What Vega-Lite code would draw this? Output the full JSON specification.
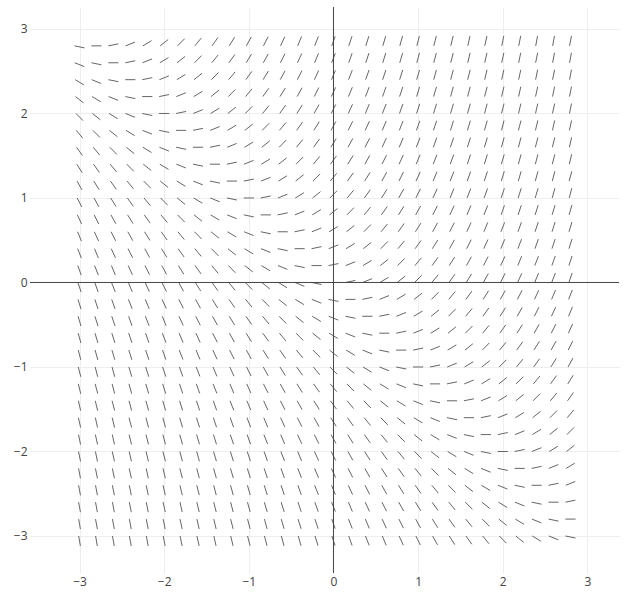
{
"$schema":"https://vega.github.io/schema/vega-lite/v6.json",
"width":589,"height":566,
"autosize":{"type":"none"},
"padding":{"left":30,"top":7,"right":7,"bottom":31},
"background":"white",
"config":{"view":{"stroke":null},"axis":{"domain":false,"ticks":false,"gridColor":"#eeeeee","gridWidth":1,"labelColor":"#444444","labelFont":"Open Sans","labelFontSize":12,"labelPadding":3,"title":null,"format":"d"}},
"data":{"values":[
{"a":-3.01,"b":-2.99,"y":-3,"c":-3.118},{"a":-2.81,"b":-2.79,"y":-3,"c":-3.118},{"a":-2.611,"b":-2.589,"y":-3,"c":-3.118},{"a":-2.411,"b":-2.389,"y":-3,"c":-3.118},{"a":-2.211,"b":-2.189,"y":-3,"c":-3.118},{"a":-2.012,"b":-1.988,"y":-3,"c":-3.118},{"a":-1.812,"b":-1.788,"y":-3,"c":-3.118},{"a":-1.613,"b":-1.587,"y":-3,"c":-3.117},{"a":-1.413,"b":-1.387,"y":-3,"c":-3.117},{"a":-1.214,"b":-1.186,"y":-3,"c":-3.117},{"a":-1.015,"b":-0.985,"y":-3,"c":-3.116},{"a":-0.815,"b":-0.785,"y":-3,"c":-3.116},{"a":-0.616,"b":-0.584,"y":-3,"c":-3.116},{"a":-0.417,"b":-0.383,"y":-3,"c":-3.115},{"a":-0.218,"b":-0.182,"y":-3,"c":-3.115},{"a":-0.019,"b":0.019,"y":-3,"c":-3.114},{"a":0.18,"b":0.22,"y":-3,"c":-3.113},{"a":0.378,"b":0.422,"y":-3,"c":-3.112},{"a":0.577,"b":0.623,"y":-3,"c":-3.111},{"a":0.775,"b":0.825,"y":-3,"c":-3.109},{"a":0.973,"b":1.027,"y":-3,"c":-3.107},{"a":1.171,"b":1.229,"y":-3,"c":-3.105},{"a":1.368,"b":1.432,"y":-3,"c":-3.102},{"a":1.565,"b":1.635,"y":-3,"c":-3.098},{"a":1.762,"b":1.838,"y":-3,"c":-3.092},{"a":1.958,"b":2.042,"y":-3,"c":-3.085},{"a":2.153,"b":2.247,"y":-3,"c":-3.075},{"a":2.349,"b":2.451,"y":-3,"c":-3.062},{"a":2.544,"b":2.656,"y":-3,"c":-3.045},{"a":2.741,"b":2.859,"y":-3,"c":-3.024},
{"a":-3.01,"b":-2.99,"y":-2.8,"c":-2.918},{"a":-2.811,"b":-2.789,"y":-2.8,"c":-2.918},{"a":-2.611,"b":-2.589,"y":-2.8,"c":-2.918},{"a":-2.411,"b":-2.389,"y":-2.8,"c":-2.918},{"a":-2.212,"b":-2.188,"y":-2.8,"c":-2.918},{"a":-2.012,"b":-1.988,"y":-2.8,"c":-2.918},{"a":-1.813,"b":-1.787,"y":-2.8,"c":-2.917},{"a":-1.613,"b":-1.587,"y":-2.8,"c":-2.917},{"a":-1.414,"b":-1.386,"y":-2.8,"c":-2.917},{"a":-1.215,"b":-1.185,"y":-2.8,"c":-2.916},{"a":-1.015,"b":-0.985,"y":-2.8,"c":-2.916},{"a":-0.816,"b":-0.784,"y":-2.8,"c":-2.916},{"a":-0.617,"b":-0.583,"y":-2.8,"c":-2.915},{"a":-0.418,"b":-0.382,"y":-2.8,"c":-2.915},{"a":-0.219,"b":-0.181,"y":-2.8,"c":-2.914},{"a":-0.02,"b":0.02,"y":-2.8,"c":-2.913},{"a":0.178,"b":0.222,"y":-2.8,"c":-2.912},{"a":0.377,"b":0.423,"y":-2.8,"c":-2.911},{"a":0.575,"b":0.625,"y":-2.8,"c":-2.909},{"a":0.773,"b":0.827,"y":-2.8,"c":-2.907},{"a":0.971,"b":1.029,"y":-2.8,"c":-2.905},{"a":1.168,"b":1.232,"y":-2.8,"c":-2.902},{"a":1.365,"b":1.435,"y":-2.8,"c":-2.898},{"a":1.562,"b":1.638,"y":-2.8,"c":-2.892},{"a":1.758,"b":1.842,"y":-2.8,"c":-2.885},{"a":1.953,"b":2.047,"y":-2.8,"c":-2.875},{"a":2.149,"b":2.251,"y":-2.8,"c":-2.862},{"a":2.344,"b":2.456,"y":-2.8,"c":-2.845},{"a":2.541,"b":2.659,"y":-2.8,"c":-2.824},{"a":2.74,"b":2.86,"y":-2.8,"c":-2.8},
{"a":-3.011,"b":-2.989,"y":-2.6,"c":-2.718},{"a":-2.811,"b":-2.789,"y":-2.6,"c":-2.718},{"a":-2.611,"b":-2.589,"y":-2.6,"c":-2.718},{"a":-2.412,"b":-2.388,"y":-2.6,"c":-2.718},{"a":-2.212,"b":-2.188,"y":-2.6,"c":-2.718},{"a":-2.013,"b":-1.987,"y":-2.6,"c":-2.717},{"a":-1.813,"b":-1.787,"y":-2.6,"c":-2.717},{"a":-1.614,"b":-1.586,"y":-2.6,"c":-2.717},{"a":-1.415,"b":-1.385,"y":-2.6,"c":-2.716},{"a":-1.215,"b":-1.185,"y":-2.6,"c":-2.716},{"a":-1.016,"b":-0.984,"y":-2.6,"c":-2.716},{"a":-0.817,"b":-0.783,"y":-2.6,"c":-2.715},{"a":-0.618,"b":-0.582,"y":-2.6,"c":-2.715},{"a":-0.419,"b":-0.381,"y":-2.6,"c":-2.714},{"a":-0.22,"b":-0.18,"y":-2.6,"c":-2.713},{"a":-0.022,"b":0.022,"y":-2.6,"c":-2.712},{"a":0.177,"b":0.223,"y":-2.6,"c":-2.711},{"a":0.375,"b":0.425,"y":-2.6,"c":-2.709},{"a":0.573,"b":0.627,"y":-2.6,"c":-2.707},{"a":0.771,"b":0.829,"y":-2.6,"c":-2.705},{"a":0.968,"b":1.032,"y":-2.6,"c":-2.702},{"a":1.165,"b":1.235,"y":-2.6,"c":-2.698},{"a":1.362,"b":1.438,"y":-2.6,"c":-2.692},{"a":1.558,"b":1.642,"y":-2.6,"c":-2.685},{"a":1.753,"b":1.847,"y":-2.6,"c":-2.675},{"a":1.949,"b":2.051,"y":-2.6,"c":-2.662},{"a":2.144,"b":2.256,"y":-2.6,"c":-2.645},{"a":2.341,"b":2.459,"y":-2.6,"c":-2.624},{"a":2.54,"b":2.66,"y":-2.6,"c":-2.6},{"a":2.741,"b":2.859,"y":-2.6,"c":-2.576},
{"a":-3.011,"b":-2.989,"y":-2.4,"c":-2.518},{"a":-2.811,"b":-2.789,"y":-2.4,"c":-2.518},{"a":-2.612,"b":-2.588,"y":-2.4,"c":-2.518},{"a":-2.412,"b":-2.388,"y":-2.4,"c":-2.518},{"a":-2.213,"b":-2.187,"y":-2.4,"c":-2.517},{"a":-2.013,"b":-1.987,"y":-2.4,"c":-2.517},{"a":-1.814,"b":-1.786,"y":-2.4,"c":-2.517},{"a":-1.615,"b":-1.585,"y":-2.4,"c":-2.516},{"a":-1.415,"b":-1.385,"y":-2.4,"c":-2.516},{"a":-1.216,"b":-1.184,"y":-2.4,"c":-2.516},{"a":-1.017,"b":-0.983,"y":-2.4,"c":-2.515},{"a":-0.818,"b":-0.782,"y":-2.4,"c":-2.515},{"a":-0.619,"b":-0.581,"y":-2.4,"c":-2.514},{"a":-0.42,"b":-0.38,"y":-2.4,"c":-2.513},{"a":-0.222,"b":-0.178,"y":-2.4,"c":-2.512},{"a":-0.023,"b":0.023,"y":-2.4,"c":-2.511},{"a":0.175,"b":0.225,"y":-2.4,"c":-2.509},{"a":0.373,"b":0.427,"y":-2.4,"c":-2.507},{"a":0.571,"b":0.629,"y":-2.4,"c":-2.505},{"a":0.768,"b":0.832,"y":-2.4,"c":-2.502},{"a":0.965,"b":1.035,"y":-2.4,"c":-2.498},{"a":1.162,"b":1.238,"y":-2.4,"c":-2.492},{"a":1.358,"b":1.442,"y":-2.4,"c":-2.485},{"a":1.553,"b":1.647,"y":-2.4,"c":-2.475},{"a":1.749,"b":1.851,"y":-2.4,"c":-2.462},{"a":1.944,"b":2.056,"y":-2.4,"c":-2.445},{"a":2.141,"b":2.259,"y":-2.4,"c":-2.424},{"a":2.34,"b":2.46,"y":-2.4,"c":-2.4},{"a":2.541,"b":2.659,"y":-2.4,"c":-2.376},{"a":2.744,"b":2.856,"y":-2.4,"c":-2.355},
{"a":-3.011,"b":-2.989,"y":-2.2,"c":-2.318},{"a":-2.812,"b":-2.788,"y":-2.2,"c":-2.318},{"a":-2.612,"b":-2.588,"y":-2.2,"c":-2.318},{"a":-2.413,"b":-2.387,"y":-2.2,"c":-2.317},{"a":-2.213,"b":-2.187,"y":-2.2,"c":-2.317},{"a":-2.014,"b":-1.986,"y":-2.2,"c":-2.317},{"a":-1.815,"b":-1.785,"y":-2.2,"c":-2.316},{"a":-1.615,"b":-1.585,"y":-2.2,"c":-2.316},{"a":-1.416,"b":-1.384,"y":-2.2,"c":-2.316},{"a":-1.217,"b":-1.183,"y":-2.2,"c":-2.315},{"a":-1.018,"b":-0.982,"y":-2.2,"c":-2.315},{"a":-0.819,"b":-0.781,"y":-2.2,"c":-2.314},{"a":-0.62,"b":-0.58,"y":-2.2,"c":-2.313},{"a":-0.422,"b":-0.378,"y":-2.2,"c":-2.312},{"a":-0.223,"b":-0.177,"y":-2.2,"c":-2.311},{"a":-0.025,"b":0.025,"y":-2.2,"c":-2.309},{"a":0.173,"b":0.227,"y":-2.2,"c":-2.307},{"a":0.371,"b":0.429,"y":-2.2,"c":-2.305},{"a":0.568,"b":0.632,"y":-2.2,"c":-2.302},{"a":0.765,"b":0.835,"y":-2.2,"c":-2.298},{"a":0.962,"b":1.038,"y":-2.2,"c":-2.292},{"a":1.158,"b":1.242,"y":-2.2,"c":-2.285},{"a":1.353,"b":1.447,"y":-2.2,"c":-2.275},{"a":1.549,"b":1.651,"y":-2.2,"c":-2.262},{"a":1.744,"b":1.856,"y":-2.2,"c":-2.245},{"a":1.941,"b":2.059,"y":-2.2,"c":-2.224},{"a":2.14,"b":2.26,"y":-2.2,"c":-2.2},{"a":2.341,"b":2.459,"y":-2.2,"c":-2.176},{"a":2.544,"b":2.656,"y":-2.2,"c":-2.155},{"a":2.749,"b":2.851,"y":-2.2,"c":-2.138},
{"a":-3.012,"b":-2.988,"y":-2,"c":-2.118},{"a":-2.812,"b":-2.788,"y":-2,"c":-2.118},{"a":-2.613,"b":-2.587,"y":-2,"c":-2.117},{"a":-2.413,"b":-2.387,"y":-2,"c":-2.117},{"a":-2.214,"b":-2.186,"y":-2,"c":-2.117},{"a":-2.015,"b":-1.985,"y":-2,"c":-2.116},{"a":-1.815,"b":-1.785,"y":-2,"c":-2.116},{"a":-1.616,"b":-1.584,"y":-2,"c":-2.116},{"a":-1.417,"b":-1.383,"y":-2,"c":-2.115},{"a":-1.218,"b":-1.182,"y":-2,"c":-2.115},{"a":-1.019,"b":-0.981,"y":-2,"c":-2.114},{"a":-0.82,"b":-0.78,"y":-2,"c":-2.113},{"a":-0.622,"b":-0.578,"y":-2,"c":-2.112},{"a":-0.423,"b":-0.377,"y":-2,"c":-2.111},{"a":-0.225,"b":-0.175,"y":-2,"c":-2.109},{"a":-0.027,"b":0.027,"y":-2,"c":-2.107},{"a":0.171,"b":0.229,"y":-2,"c":-2.105},{"a":0.368,"b":0.432,"y":-2,"c":-2.102},{"a":0.565,"b":0.635,"y":-2,"c":-2.098},{"a":0.762,"b":0.838,"y":-2,"c":-2.092},{"a":0.958,"b":1.042,"y":-2,"c":-2.085},{"a":1.153,"b":1.247,"y":-2,"c":-2.075},{"a":1.349,"b":1.451,"y":-2,"c":-2.062},{"a":1.544,"b":1.656,"y":-2,"c":-2.045},{"a":1.741,"b":1.859,"y":-2,"c":-2.024},{"a":1.94,"b":2.06,"y":-2,"c":-2},{"a":2.141,"b":2.259,"y":-2,"c":-1.976},{"a":2.344,"b":2.456,"y":-2,"c":-1.955},{"a":2.549,"b":2.651,"y":-2,"c":-1.938},{"a":2.753,"b":2.847,"y":-2,"c":-1.925},
{"a":-3.012,"b":-2.988,"y":-1.8,"c":-1.918},{"a":-2.813,"b":-2.787,"y":-1.8,"c":-1.917},{"a":-2.613,"b":-2.587,"y":-1.8,"c":-1.917},{"a":-2.414,"b":-2.386,"y":-1.8,"c":-1.917},{"a":-2.215,"b":-2.185,"y":-1.8,"c":-1.916},{"a":-2.015,"b":-1.985,"y":-1.8,"c":-1.916},{"a":-1.816,"b":-1.784,"y":-1.8,"c":-1.916},{"a":-1.617,"b":-1.583,"y":-1.8,"c":-1.915},{"a":-1.418,"b":-1.382,"y":-1.8,"c":-1.915},{"a":-1.219,"b":-1.181,"y":-1.8,"c":-1.914},{"a":-1.02,"b":-0.98,"y":-1.8,"c":-1.913},{"a":-0.822,"b":-0.778,"y":-1.8,"c":-1.912},{"a":-0.623,"b":-0.577,"y":-1.8,"c":-1.911},{"a":-0.425,"b":-0.375,"y":-1.8,"c":-1.909},{"a":-0.227,"b":-0.173,"y":-1.8,"c":-1.907},{"a":-0.029,"b":0.029,"y":-1.8,"c":-1.905},{"a":0.168,"b":0.232,"y":-1.8,"c":-1.902},{"a":0.365,"b":0.435,"y":-1.8,"c":-1.898},{"a":0.562,"b":0.638,"y":-1.8,"c":-1.892},{"a":0.758,"b":0.842,"y":-1.8,"c":-1.885},{"a":0.953,"b":1.047,"y":-1.8,"c":-1.875},{"a":1.149,"b":1.251,"y":-1.8,"c":-1.862},{"a":1.344,"b":1.456,"y":-1.8,"c":-1.845},{"a":1.541,"b":1.659,"y":-1.8,"c":-1.824},{"a":1.74,"b":1.86,"y":-1.8,"c":-1.8},{"a":1.941,"b":2.059,"y":-1.8,"c":-1.776},{"a":2.144,"b":2.256,"y":-1.8,"c":-1.755},{"a":2.349,"b":2.451,"y":-1.8,"c":-1.738},{"a":2.553,"b":2.647,"y":-1.8,"c":-1.725},{"a":2.758,"b":2.842,"y":-1.8,"c":-1.715},
{"a":-3.013,"b":-2.987,"y":-1.6,"c":-1.717},{"a":-2.813,"b":-2.787,"y":-1.6,"c":-1.717},{"a":-2.614,"b":-2.586,"y":-1.6,"c":-1.717},{"a":-2.415,"b":-2.385,"y":-1.6,"c":-1.716},{"a":-2.215,"b":-2.185,"y":-1.6,"c":-1.716},{"a":-2.016,"b":-1.984,"y":-1.6,"c":-1.716},{"a":-1.817,"b":-1.783,"y":-1.6,"c":-1.715},{"a":-1.618,"b":-1.582,"y":-1.6,"c":-1.715},{"a":-1.419,"b":-1.381,"y":-1.6,"c":-1.714},{"a":-1.22,"b":-1.18,"y":-1.6,"c":-1.713},{"a":-1.022,"b":-0.978,"y":-1.6,"c":-1.712},{"a":-0.823,"b":-0.777,"y":-1.6,"c":-1.711},{"a":-0.625,"b":-0.575,"y":-1.6,"c":-1.709},{"a":-0.427,"b":-0.373,"y":-1.6,"c":-1.707},{"a":-0.229,"b":-0.171,"y":-1.6,"c":-1.705},{"a":-0.032,"b":0.032,"y":-1.6,"c":-1.702},{"a":0.165,"b":0.235,"y":-1.6,"c":-1.698},{"a":0.362,"b":0.438,"y":-1.6,"c":-1.692},{"a":0.558,"b":0.642,"y":-1.6,"c":-1.685},{"a":0.753,"b":0.847,"y":-1.6,"c":-1.675},{"a":0.949,"b":1.051,"y":-1.6,"c":-1.662},{"a":1.144,"b":1.256,"y":-1.6,"c":-1.645},{"a":1.341,"b":1.459,"y":-1.6,"c":-1.624},{"a":1.54,"b":1.66,"y":-1.6,"c":-1.6},{"a":1.741,"b":1.859,"y":-1.6,"c":-1.576},{"a":1.944,"b":2.056,"y":-1.6,"c":-1.555},{"a":2.149,"b":2.251,"y":-1.6,"c":-1.538},{"a":2.353,"b":2.447,"y":-1.6,"c":-1.525},{"a":2.558,"b":2.642,"y":-1.6,"c":-1.515},{"a":2.762,"b":2.838,"y":-1.6,"c":-1.508},
{"a":-3.013,"b":-2.987,"y":-1.4,"c":-1.517},{"a":-2.814,"b":-2.786,"y":-1.4,"c":-1.517},{"a":-2.615,"b":-2.585,"y":-1.4,"c":-1.516},{"a":-2.415,"b":-2.385,"y":-1.4,"c":-1.516},{"a":-2.216,"b":-2.184,"y":-1.4,"c":-1.516},{"a":-2.017,"b":-1.983,"y":-1.4,"c":-1.515},{"a":-1.818,"b":-1.782,"y":-1.4,"c":-1.515},{"a":-1.619,"b":-1.581,"y":-1.4,"c":-1.514},{"a":-1.42,"b":-1.38,"y":-1.4,"c":-1.513},{"a":-1.222,"b":-1.178,"y":-1.4,"c":-1.512},{"a":-1.023,"b":-0.977,"y":-1.4,"c":-1.511},{"a":-0.825,"b":-0.775,"y":-1.4,"c":-1.509},{"a":-0.627,"b":-0.573,"y":-1.4,"c":-1.507},{"a":-0.429,"b":-0.371,"y":-1.4,"c":-1.505},{"a":-0.232,"b":-0.168,"y":-1.4,"c":-1.502},{"a":-0.035,"b":0.035,"y":-1.4,"c":-1.498},{"a":0.162,"b":0.238,"y":-1.4,"c":-1.492},{"a":0.358,"b":0.442,"y":-1.4,"c":-1.485},{"a":0.553,"b":0.647,"y":-1.4,"c":-1.475},{"a":0.749,"b":0.851,"y":-1.4,"c":-1.462},{"a":0.944,"b":1.056,"y":-1.4,"c":-1.445},{"a":1.141,"b":1.259,"y":-1.4,"c":-1.424},{"a":1.34,"b":1.46,"y":-1.4,"c":-1.4},{"a":1.541,"b":1.659,"y":-1.4,"c":-1.376},{"a":1.744,"b":1.856,"y":-1.4,"c":-1.355},{"a":1.949,"b":2.051,"y":-1.4,"c":-1.338},{"a":2.153,"b":2.247,"y":-1.4,"c":-1.325},{"a":2.358,"b":2.442,"y":-1.4,"c":-1.315},{"a":2.562,"b":2.638,"y":-1.4,"c":-1.308},{"a":2.765,"b":2.835,"y":-1.4,"c":-1.302},
{"a":-3.014,"b":-2.986,"y":-1.2,"c":-1.317},{"a":-2.815,"b":-2.785,"y":-1.2,"c":-1.316},{"a":-2.615,"b":-2.585,"y":-1.2,"c":-1.316},{"a":-2.416,"b":-2.384,"y":-1.2,"c":-1.316},{"a":-2.217,"b":-2.183,"y":-1.2,"c":-1.315},{"a":-2.018,"b":-1.982,"y":-1.2,"c":-1.315},{"a":-1.819,"b":-1.781,"y":-1.2,"c":-1.314},{"a":-1.62,"b":-1.58,"y":-1.2,"c":-1.313},{"a":-1.422,"b":-1.378,"y":-1.2,"c":-1.312},{"a":-1.223,"b":-1.177,"y":-1.2,"c":-1.311},{"a":-1.025,"b":-0.975,"y":-1.2,"c":-1.309},{"a":-0.827,"b":-0.773,"y":-1.2,"c":-1.307},{"a":-0.629,"b":-0.571,"y":-1.2,"c":-1.305},{"a":-0.432,"b":-0.368,"y":-1.2,"c":-1.302},{"a":-0.235,"b":-0.165,"y":-1.2,"c":-1.298},{"a":-0.038,"b":0.038,"y":-1.2,"c":-1.292},{"a":0.158,"b":0.242,"y":-1.2,"c":-1.285},{"a":0.353,"b":0.447,"y":-1.2,"c":-1.275},{"a":0.549,"b":0.651,"y":-1.2,"c":-1.262},{"a":0.744,"b":0.856,"y":-1.2,"c":-1.245},{"a":0.941,"b":1.059,"y":-1.2,"c":-1.224},{"a":1.14,"b":1.26,"y":-1.2,"c":-1.2},{"a":1.341,"b":1.459,"y":-1.2,"c":-1.176},{"a":1.544,"b":1.656,"y":-1.2,"c":-1.155},{"a":1.749,"b":1.851,"y":-1.2,"c":-1.138},{"a":1.953,"b":2.047,"y":-1.2,"c":-1.125},{"a":2.158,"b":2.242,"y":-1.2,"c":-1.115},{"a":2.362,"b":2.438,"y":-1.2,"c":-1.108},{"a":2.565,"b":2.635,"y":-1.2,"c":-1.102},{"a":2.768,"b":2.832,"y":-1.2,"c":-1.098},
{"a":-3.015,"b":-2.985,"y":-1,"c":-1.116},{"a":-2.815,"b":-2.785,"y":-1,"c":-1.116},{"a":-2.616,"b":-2.584,"y":-1,"c":-1.116},{"a":-2.417,"b":-2.383,"y":-1,"c":-1.115},{"a":-2.218,"b":-2.182,"y":-1,"c":-1.115},{"a":-2.019,"b":-1.981,"y":-1,"c":-1.114},{"a":-1.82,"b":-1.78,"y":-1,"c":-1.113},{"a":-1.622,"b":-1.578,"y":-1,"c":-1.112},{"a":-1.423,"b":-1.377,"y":-1,"c":-1.111},{"a":-1.225,"b":-1.175,"y":-1,"c":-1.109},{"a":-1.027,"b":-0.973,"y":-1,"c":-1.107},{"a":-0.829,"b":-0.771,"y":-1,"c":-1.105},{"a":-0.632,"b":-0.568,"y":-1,"c":-1.102},{"a":-0.435,"b":-0.365,"y":-1,"c":-1.098},{"a":-0.238,"b":-0.162,"y":-1,"c":-1.092},{"a":-0.042,"b":0.042,"y":-1,"c":-1.085},{"a":0.153,"b":0.247,"y":-1,"c":-1.075},{"a":0.349,"b":0.451,"y":-1,"c":-1.062},{"a":0.544,"b":0.656,"y":-1,"c":-1.045},{"a":0.741,"b":0.859,"y":-1,"c":-1.024},{"a":0.94,"b":1.06,"y":-1,"c":-1},{"a":1.141,"b":1.259,"y":-1,"c":-0.976},{"a":1.344,"b":1.456,"y":-1,"c":-0.955},{"a":1.549,"b":1.651,"y":-1,"c":-0.938},{"a":1.753,"b":1.847,"y":-1,"c":-0.925},{"a":1.958,"b":2.042,"y":-1,"c":-0.915},{"a":2.162,"b":2.238,"y":-1,"c":-0.908},{"a":2.365,"b":2.435,"y":-1,"c":-0.902},{"a":2.568,"b":2.632,"y":-1,"c":-0.898},{"a":2.771,"b":2.829,"y":-1,"c":-0.895},
{"a":-3.015,"b":-2.985,"y":-0.8,"c":-0.916},{"a":-2.816,"b":-2.784,"y":-0.8,"c":-0.916},{"a":-2.617,"b":-2.583,"y":-0.8,"c":-0.915},{"a":-2.418,"b":-2.382,"y":-0.8,"c":-0.915},{"a":-2.219,"b":-2.181,"y":-0.8,"c":-0.914},{"a":-2.02,"b":-1.98,"y":-0.8,"c":-0.913},{"a":-1.822,"b":-1.778,"y":-0.8,"c":-0.912},{"a":-1.623,"b":-1.577,"y":-0.8,"c":-0.911},{"a":-1.425,"b":-1.375,"y":-0.8,"c":-0.909},{"a":-1.227,"b":-1.173,"y":-0.8,"c":-0.907},{"a":-1.029,"b":-0.971,"y":-0.8,"c":-0.905},{"a":-0.832,"b":-0.768,"y":-0.8,"c":-0.902},{"a":-0.635,"b":-0.565,"y":-0.8,"c":-0.898},{"a":-0.438,"b":-0.362,"y":-0.8,"c":-0.892},{"a":-0.242,"b":-0.158,"y":-0.8,"c":-0.885},{"a":-0.047,"b":0.047,"y":-0.8,"c":-0.875},{"a":0.149,"b":0.251,"y":-0.8,"c":-0.862},{"a":0.344,"b":0.456,"y":-0.8,"c":-0.845},{"a":0.541,"b":0.659,"y":-0.8,"c":-0.824},{"a":0.74,"b":0.86,"y":-0.8,"c":-0.8},{"a":0.941,"b":1.059,"y":-0.8,"c":-0.776},{"a":1.144,"b":1.256,"y":-0.8,"c":-0.755},{"a":1.349,"b":1.451,"y":-0.8,"c":-0.738},{"a":1.553,"b":1.647,"y":-0.8,"c":-0.725},{"a":1.758,"b":1.842,"y":-0.8,"c":-0.715},{"a":1.962,"b":2.038,"y":-0.8,"c":-0.708},{"a":2.165,"b":2.235,"y":-0.8,"c":-0.702},{"a":2.368,"b":2.432,"y":-0.8,"c":-0.698},{"a":2.571,"b":2.629,"y":-0.8,"c":-0.695},{"a":2.773,"b":2.827,"y":-0.8,"c":-0.693},
{"a":-3.016,"b":-2.984,"y":-0.6,"c":-0.716},{"a":-2.817,"b":-2.783,"y":-0.6,"c":-0.715},{"a":-2.618,"b":-2.582,"y":-0.6,"c":-0.715},{"a":-2.419,"b":-2.381,"y":-0.6,"c":-0.714},{"a":-2.22,"b":-2.18,"y":-0.6,"c":-0.713},{"a":-2.022,"b":-1.978,"y":-0.6,"c":-0.712},{"a":-1.823,"b":-1.777,"y":-0.6,"c":-0.711},{"a":-1.625,"b":-1.575,"y":-0.6,"c":-0.709},{"a":-1.427,"b":-1.373,"y":-0.6,"c":-0.707},{"a":-1.229,"b":-1.171,"y":-0.6,"c":-0.705},{"a":-1.032,"b":-0.968,"y":-0.6,"c":-0.702},{"a":-0.835,"b":-0.765,"y":-0.6,"c":-0.698},{"a":-0.638,"b":-0.562,"y":-0.6,"c":-0.692},{"a":-0.442,"b":-0.358,"y":-0.6,"c":-0.685},{"a":-0.247,"b":-0.153,"y":-0.6,"c":-0.675},{"a":-0.051,"b":0.051,"y":-0.6,"c":-0.662},{"a":0.144,"b":0.256,"y":-0.6,"c":-0.645},{"a":0.341,"b":0.459,"y":-0.6,"c":-0.624},{"a":0.54,"b":0.66,"y":-0.6,"c":-0.6},{"a":0.741,"b":0.859,"y":-0.6,"c":-0.576},{"a":0.944,"b":1.056,"y":-0.6,"c":-0.555},{"a":1.149,"b":1.251,"y":-0.6,"c":-0.538},{"a":1.353,"b":1.447,"y":-0.6,"c":-0.525},{"a":1.558,"b":1.642,"y":-0.6,"c":-0.515},{"a":1.762,"b":1.838,"y":-0.6,"c":-0.508},{"a":1.965,"b":2.035,"y":-0.6,"c":-0.502},{"a":2.168,"b":2.232,"y":-0.6,"c":-0.498},{"a":2.371,"b":2.429,"y":-0.6,"c":-0.495},{"a":2.573,"b":2.627,"y":-0.6,"c":-0.493},{"a":2.775,"b":2.825,"y":-0.6,"c":-0.491},
{"a":-3.017,"b":-2.983,"y":-0.4,"c":-0.515},{"a":-2.818,"b":-2.782,"y":-0.4,"c":-0.515},{"a":-2.619,"b":-2.581,"y":-0.4,"c":-0.514},{"a":-2.42,"b":-2.38,"y":-0.4,"c":-0.513},{"a":-2.222,"b":-2.178,"y":-0.4,"c":-0.512},{"a":-2.023,"b":-1.977,"y":-0.4,"c":-0.511},{"a":-1.825,"b":-1.775,"y":-0.4,"c":-0.509},{"a":-1.627,"b":-1.573,"y":-0.4,"c":-0.507},{"a":-1.429,"b":-1.371,"y":-0.4,"c":-0.505},{"a":-1.232,"b":-1.168,"y":-0.4,"c":-0.502},{"a":-1.035,"b":-0.965,"y":-0.4,"c":-0.498},{"a":-0.838,"b":-0.762,"y":-0.4,"c":-0.492},{"a":-0.642,"b":-0.558,"y":-0.4,"c":-0.485},{"a":-0.447,"b":-0.353,"y":-0.4,"c":-0.475},{"a":-0.251,"b":-0.149,"y":-0.4,"c":-0.462},{"a":-0.056,"b":0.056,"y":-0.4,"c":-0.445},{"a":0.141,"b":0.259,"y":-0.4,"c":-0.424},{"a":0.34,"b":0.46,"y":-0.4,"c":-0.4},{"a":0.541,"b":0.659,"y":-0.4,"c":-0.376},{"a":0.744,"b":0.856,"y":-0.4,"c":-0.355},{"a":0.949,"b":1.051,"y":-0.4,"c":-0.338},{"a":1.153,"b":1.247,"y":-0.4,"c":-0.325},{"a":1.358,"b":1.442,"y":-0.4,"c":-0.315},{"a":1.562,"b":1.638,"y":-0.4,"c":-0.308},{"a":1.765,"b":1.835,"y":-0.4,"c":-0.302},{"a":1.968,"b":2.032,"y":-0.4,"c":-0.298},{"a":2.171,"b":2.229,"y":-0.4,"c":-0.295},{"a":2.373,"b":2.427,"y":-0.4,"c":-0.293},{"a":2.575,"b":2.625,"y":-0.4,"c":-0.291},{"a":2.777,"b":2.823,"y":-0.4,"c":-0.289},
{"a":-3.018,"b":-2.982,"y":-0.2,"c":-0.315},{"a":-2.819,"b":-2.781,"y":-0.2,"c":-0.314},{"a":-2.62,"b":-2.58,"y":-0.2,"c":-0.313},{"a":-2.422,"b":-2.378,"y":-0.2,"c":-0.312},{"a":-2.223,"b":-2.177,"y":-0.2,"c":-0.311},{"a":-2.025,"b":-1.975,"y":-0.2,"c":-0.309},{"a":-1.827,"b":-1.773,"y":-0.2,"c":-0.307},{"a":-1.629,"b":-1.571,"y":-0.2,"c":-0.305},{"a":-1.432,"b":-1.368,"y":-0.2,"c":-0.302},{"a":-1.235,"b":-1.165,"y":-0.2,"c":-0.298},{"a":-1.038,"b":-0.962,"y":-0.2,"c":-0.292},{"a":-0.842,"b":-0.758,"y":-0.2,"c":-0.285},{"a":-0.647,"b":-0.553,"y":-0.2,"c":-0.275},{"a":-0.451,"b":-0.349,"y":-0.2,"c":-0.262},{"a":-0.256,"b":-0.144,"y":-0.2,"c":-0.245},{"a":-0.059,"b":0.059,"y":-0.2,"c":-0.224},{"a":0.14,"b":0.26,"y":-0.2,"c":-0.2},{"a":0.341,"b":0.459,"y":-0.2,"c":-0.176},{"a":0.544,"b":0.656,"y":-0.2,"c":-0.155},{"a":0.749,"b":0.851,"y":-0.2,"c":-0.138},{"a":0.953,"b":1.047,"y":-0.2,"c":-0.125},{"a":1.158,"b":1.242,"y":-0.2,"c":-0.115},{"a":1.362,"b":1.438,"y":-0.2,"c":-0.108},{"a":1.565,"b":1.635,"y":-0.2,"c":-0.102},{"a":1.768,"b":1.832,"y":-0.2,"c":-0.098},{"a":1.971,"b":2.029,"y":-0.2,"c":-0.095},{"a":2.173,"b":2.227,"y":-0.2,"c":-0.093},{"a":2.375,"b":2.425,"y":-0.2,"c":-0.091},{"a":2.577,"b":2.623,"y":-0.2,"c":-0.089},{"a":2.778,"b":2.822,"y":-0.2,"c":-0.088},
{"a":-3.019,"b":-2.981,"y":0,"c":-0.114},{"a":-2.82,"b":-2.78,"y":0,"c":-0.113},{"a":-2.622,"b":-2.578,"y":0,"c":-0.112},{"a":-2.423,"b":-2.377,"y":0,"c":-0.111},{"a":-2.225,"b":-2.175,"y":0,"c":-0.109},{"a":-2.027,"b":-1.973,"y":0,"c":-0.107},{"a":-1.829,"b":-1.771,"y":0,"c":-0.105},{"a":-1.632,"b":-1.568,"y":0,"c":-0.102},{"a":-1.435,"b":-1.365,"y":0,"c":-0.098},{"a":-1.238,"b":-1.162,"y":0,"c":-0.092},{"a":-1.042,"b":-0.958,"y":0,"c":-0.085},{"a":-0.847,"b":-0.753,"y":0,"c":-0.075},{"a":-0.651,"b":-0.549,"y":0,"c":-0.062},{"a":-0.456,"b":-0.344,"y":0,"c":-0.045},{"a":-0.259,"b":-0.141,"y":0,"c":-0.024},{"a":-0.06,"b":0.06,"y":0,"c":0},{"a":0.141,"b":0.259,"y":0,"c":0.024},{"a":0.344,"b":0.456,"y":0,"c":0.045},{"a":0.549,"b":0.651,"y":0,"c":0.062},{"a":0.753,"b":0.847,"y":0,"c":0.075},{"a":0.958,"b":1.042,"y":0,"c":0.085},{"a":1.162,"b":1.238,"y":0,"c":0.092},{"a":1.365,"b":1.435,"y":0,"c":0.098},{"a":1.568,"b":1.632,"y":0,"c":0.102},{"a":1.771,"b":1.829,"y":0,"c":0.105},{"a":1.973,"b":2.027,"y":0,"c":0.107},{"a":2.175,"b":2.225,"y":0,"c":0.109},{"a":2.377,"b":2.423,"y":0,"c":0.111},{"a":2.578,"b":2.622,"y":0,"c":0.112},{"a":2.78,"b":2.82,"y":0,"c":0.113},
{"a":-3.02,"b":-2.98,"y":0.2,"c":0.087},{"a":-2.822,"b":-2.778,"y":0.2,"c":0.088},{"a":-2.623,"b":-2.577,"y":0.2,"c":0.089},{"a":-2.425,"b":-2.375,"y":0.2,"c":0.091},{"a":-2.227,"b":-2.173,"y":0.2,"c":0.093},{"a":-2.029,"b":-1.971,"y":0.2,"c":0.095},{"a":-1.832,"b":-1.768,"y":0.2,"c":0.098},{"a":-1.635,"b":-1.565,"y":0.2,"c":0.102},{"a":-1.438,"b":-1.362,"y":0.2,"c":0.108},{"a":-1.242,"b":-1.158,"y":0.2,"c":0.115},{"a":-1.047,"b":-0.953,"y":0.2,"c":0.125},{"a":-0.851,"b":-0.749,"y":0.2,"c":0.138},{"a":-0.656,"b":-0.544,"y":0.2,"c":0.155},{"a":-0.459,"b":-0.341,"y":0.2,"c":0.176},{"a":-0.26,"b":-0.14,"y":0.2,"c":0.2},{"a":-0.059,"b":0.059,"y":0.2,"c":0.224},{"a":0.144,"b":0.256,"y":0.2,"c":0.245},{"a":0.349,"b":0.451,"y":0.2,"c":0.262},{"a":0.553,"b":0.647,"y":0.2,"c":0.275},{"a":0.758,"b":0.842,"y":0.2,"c":0.285},{"a":0.962,"b":1.038,"y":0.2,"c":0.292},{"a":1.165,"b":1.235,"y":0.2,"c":0.298},{"a":1.368,"b":1.432,"y":0.2,"c":0.302},{"a":1.571,"b":1.629,"y":0.2,"c":0.305},{"a":1.773,"b":1.827,"y":0.2,"c":0.307},{"a":1.975,"b":2.025,"y":0.2,"c":0.309},{"a":2.177,"b":2.223,"y":0.2,"c":0.311},{"a":2.378,"b":2.422,"y":0.2,"c":0.312},{"a":2.58,"b":2.62,"y":0.2,"c":0.313},{"a":2.781,"b":2.819,"y":0.2,"c":0.314},
{"a":-3.022,"b":-2.978,"y":0.4,"c":0.288},{"a":-2.823,"b":-2.777,"y":0.4,"c":0.289},{"a":-2.625,"b":-2.575,"y":0.4,"c":0.291},{"a":-2.427,"b":-2.373,"y":0.4,"c":0.293},{"a":-2.229,"b":-2.171,"y":0.4,"c":0.295},{"a":-2.032,"b":-1.968,"y":0.4,"c":0.298},{"a":-1.835,"b":-1.765,"y":0.4,"c":0.302},{"a":-1.638,"b":-1.562,"y":0.4,"c":0.308},{"a":-1.442,"b":-1.358,"y":0.4,"c":0.315},{"a":-1.247,"b":-1.153,"y":0.4,"c":0.325},{"a":-1.051,"b":-0.949,"y":0.4,"c":0.338},{"a":-0.856,"b":-0.744,"y":0.4,"c":0.355},{"a":-0.659,"b":-0.541,"y":0.4,"c":0.376},{"a":-0.46,"b":-0.34,"y":0.4,"c":0.4},{"a":-0.259,"b":-0.141,"y":0.4,"c":0.424},{"a":-0.056,"b":0.056,"y":0.4,"c":0.445},{"a":0.149,"b":0.251,"y":0.4,"c":0.462},{"a":0.353,"b":0.447,"y":0.4,"c":0.475},{"a":0.558,"b":0.642,"y":0.4,"c":0.485},{"a":0.762,"b":0.838,"y":0.4,"c":0.492},{"a":0.965,"b":1.035,"y":0.4,"c":0.498},{"a":1.168,"b":1.232,"y":0.4,"c":0.502},{"a":1.371,"b":1.429,"y":0.4,"c":0.505},{"a":1.573,"b":1.627,"y":0.4,"c":0.507},{"a":1.775,"b":1.825,"y":0.4,"c":0.509},{"a":1.977,"b":2.023,"y":0.4,"c":0.511},{"a":2.178,"b":2.222,"y":0.4,"c":0.512},{"a":2.38,"b":2.42,"y":0.4,"c":0.513},{"a":2.581,"b":2.619,"y":0.4,"c":0.514},{"a":2.782,"b":2.818,"y":0.4,"c":0.515},
{"a":-3.023,"b":-2.977,"y":0.6,"c":0.489},{"a":-2.825,"b":-2.775,"y":0.6,"c":0.491},{"a":-2.627,"b":-2.573,"y":0.6,"c":0.493},{"a":-2.429,"b":-2.371,"y":0.6,"c":0.495},{"a":-2.232,"b":-2.168,"y":0.6,"c":0.498},{"a":-2.035,"b":-1.965,"y":0.6,"c":0.502},{"a":-1.838,"b":-1.762,"y":0.6,"c":0.508},{"a":-1.642,"b":-1.558,"y":0.6,"c":0.515},{"a":-1.447,"b":-1.353,"y":0.6,"c":0.525},{"a":-1.251,"b":-1.149,"y":0.6,"c":0.538},{"a":-1.056,"b":-0.944,"y":0.6,"c":0.555},{"a":-0.859,"b":-0.741,"y":0.6,"c":0.576},{"a":-0.66,"b":-0.54,"y":0.6,"c":0.6},{"a":-0.459,"b":-0.341,"y":0.6,"c":0.624},{"a":-0.256,"b":-0.144,"y":0.6,"c":0.645},{"a":-0.051,"b":0.051,"y":0.6,"c":0.662},{"a":0.153,"b":0.247,"y":0.6,"c":0.675},{"a":0.358,"b":0.442,"y":0.6,"c":0.685},{"a":0.562,"b":0.638,"y":0.6,"c":0.692},{"a":0.765,"b":0.835,"y":0.6,"c":0.698},{"a":0.968,"b":1.032,"y":0.6,"c":0.702},{"a":1.171,"b":1.229,"y":0.6,"c":0.705},{"a":1.373,"b":1.427,"y":0.6,"c":0.707},{"a":1.575,"b":1.625,"y":0.6,"c":0.709},{"a":1.777,"b":1.823,"y":0.6,"c":0.711},{"a":1.978,"b":2.022,"y":0.6,"c":0.712},{"a":2.18,"b":2.22,"y":0.6,"c":0.713},{"a":2.381,"b":2.419,"y":0.6,"c":0.714},{"a":2.582,"b":2.618,"y":0.6,"c":0.715},{"a":2.783,"b":2.817,"y":0.6,"c":0.715},
{"a":-3.025,"b":-2.975,"y":0.8,"c":0.691},{"a":-2.827,"b":-2.773,"y":0.8,"c":0.693},{"a":-2.629,"b":-2.571,"y":0.8,"c":0.695},{"a":-2.432,"b":-2.368,"y":0.8,"c":0.698},{"a":-2.235,"b":-2.165,"y":0.8,"c":0.702},{"a":-2.038,"b":-1.962,"y":0.8,"c":0.708},{"a":-1.842,"b":-1.758,"y":0.8,"c":0.715},{"a":-1.647,"b":-1.553,"y":0.8,"c":0.725},{"a":-1.451,"b":-1.349,"y":0.8,"c":0.738},{"a":-1.256,"b":-1.144,"y":0.8,"c":0.755},{"a":-1.059,"b":-0.941,"y":0.8,"c":0.776},{"a":-0.86,"b":-0.74,"y":0.8,"c":0.8},{"a":-0.659,"b":-0.541,"y":0.8,"c":0.824},{"a":-0.456,"b":-0.344,"y":0.8,"c":0.845},{"a":-0.251,"b":-0.149,"y":0.8,"c":0.862},{"a":-0.047,"b":0.047,"y":0.8,"c":0.875},{"a":0.158,"b":0.242,"y":0.8,"c":0.885},{"a":0.362,"b":0.438,"y":0.8,"c":0.892},{"a":0.565,"b":0.635,"y":0.8,"c":0.898},{"a":0.768,"b":0.832,"y":0.8,"c":0.902},{"a":0.971,"b":1.029,"y":0.8,"c":0.905},{"a":1.173,"b":1.227,"y":0.8,"c":0.907},{"a":1.375,"b":1.425,"y":0.8,"c":0.909},{"a":1.577,"b":1.623,"y":0.8,"c":0.911},{"a":1.778,"b":1.822,"y":0.8,"c":0.912},{"a":1.98,"b":2.02,"y":0.8,"c":0.913},{"a":2.181,"b":2.219,"y":0.8,"c":0.914},{"a":2.382,"b":2.418,"y":0.8,"c":0.915},{"a":2.583,"b":2.617,"y":0.8,"c":0.915},{"a":2.784,"b":2.816,"y":0.8,"c":0.916},
{"a":-3.027,"b":-2.973,"y":1,"c":0.893},{"a":-2.829,"b":-2.771,"y":1,"c":0.895},{"a":-2.632,"b":-2.568,"y":1,"c":0.898},{"a":-2.435,"b":-2.365,"y":1,"c":0.902},{"a":-2.238,"b":-2.162,"y":1,"c":0.908},{"a":-2.042,"b":-1.958,"y":1,"c":0.915},{"a":-1.847,"b":-1.753,"y":1,"c":0.925},{"a":-1.651,"b":-1.549,"y":1,"c":0.938},{"a":-1.456,"b":-1.344,"y":1,"c":0.955},{"a":-1.259,"b":-1.141,"y":1,"c":0.976},{"a":-1.06,"b":-0.94,"y":1,"c":1},{"a":-0.859,"b":-0.741,"y":1,"c":1.024},{"a":-0.656,"b":-0.544,"y":1,"c":1.045},{"a":-0.451,"b":-0.349,"y":1,"c":1.062},{"a":-0.247,"b":-0.153,"y":1,"c":1.075},{"a":-0.042,"b":0.042,"y":1,"c":1.085},{"a":0.162,"b":0.238,"y":1,"c":1.092},{"a":0.365,"b":0.435,"y":1,"c":1.098},{"a":0.568,"b":0.632,"y":1,"c":1.102},{"a":0.771,"b":0.829,"y":1,"c":1.105},{"a":0.973,"b":1.027,"y":1,"c":1.107},{"a":1.175,"b":1.225,"y":1,"c":1.109},{"a":1.377,"b":1.423,"y":1,"c":1.111},{"a":1.578,"b":1.622,"y":1,"c":1.112},{"a":1.78,"b":1.82,"y":1,"c":1.113},{"a":1.981,"b":2.019,"y":1,"c":1.114},{"a":2.182,"b":2.218,"y":1,"c":1.115},{"a":2.383,"b":2.417,"y":1,"c":1.115},{"a":2.584,"b":2.616,"y":1,"c":1.116},{"a":2.785,"b":2.815,"y":1,"c":1.116},
{"a":-3.029,"b":-2.971,"y":1.2,"c":1.095},{"a":-2.832,"b":-2.768,"y":1.2,"c":1.098},{"a":-2.635,"b":-2.565,"y":1.2,"c":1.102},{"a":-2.438,"b":-2.362,"y":1.2,"c":1.108},{"a":-2.242,"b":-2.158,"y":1.2,"c":1.115},{"a":-2.047,"b":-1.953,"y":1.2,"c":1.125},{"a":-1.851,"b":-1.749,"y":1.2,"c":1.138},{"a":-1.656,"b":-1.544,"y":1.2,"c":1.155},{"a":-1.459,"b":-1.341,"y":1.2,"c":1.176},{"a":-1.26,"b":-1.14,"y":1.2,"c":1.2},{"a":-1.059,"b":-0.941,"y":1.2,"c":1.224},{"a":-0.856,"b":-0.744,"y":1.2,"c":1.245},{"a":-0.651,"b":-0.549,"y":1.2,"c":1.262},{"a":-0.447,"b":-0.353,"y":1.2,"c":1.275},{"a":-0.242,"b":-0.158,"y":1.2,"c":1.285},{"a":-0.038,"b":0.038,"y":1.2,"c":1.292},{"a":0.165,"b":0.235,"y":1.2,"c":1.298},{"a":0.368,"b":0.432,"y":1.2,"c":1.302},{"a":0.571,"b":0.629,"y":1.2,"c":1.305},{"a":0.773,"b":0.827,"y":1.2,"c":1.307},{"a":0.975,"b":1.025,"y":1.2,"c":1.309},{"a":1.177,"b":1.223,"y":1.2,"c":1.311},{"a":1.378,"b":1.422,"y":1.2,"c":1.312},{"a":1.58,"b":1.62,"y":1.2,"c":1.313},{"a":1.781,"b":1.819,"y":1.2,"c":1.314},{"a":1.982,"b":2.018,"y":1.2,"c":1.315},{"a":2.183,"b":2.217,"y":1.2,"c":1.315},{"a":2.384,"b":2.416,"y":1.2,"c":1.316},{"a":2.585,"b":2.615,"y":1.2,"c":1.316},{"a":2.785,"b":2.815,"y":1.2,"c":1.316},
{"a":-3.032,"b":-2.968,"y":1.4,"c":1.298},{"a":-2.835,"b":-2.765,"y":1.4,"c":1.302},{"a":-2.638,"b":-2.562,"y":1.4,"c":1.308},{"a":-2.442,"b":-2.358,"y":1.4,"c":1.315},{"a":-2.247,"b":-2.153,"y":1.4,"c":1.325},{"a":-2.051,"b":-1.949,"y":1.4,"c":1.338},{"a":-1.856,"b":-1.744,"y":1.4,"c":1.355},{"a":-1.659,"b":-1.541,"y":1.4,"c":1.376},{"a":-1.46,"b":-1.34,"y":1.4,"c":1.4},{"a":-1.259,"b":-1.141,"y":1.4,"c":1.424},{"a":-1.056,"b":-0.944,"y":1.4,"c":1.445},{"a":-0.851,"b":-0.749,"y":1.4,"c":1.462},{"a":-0.647,"b":-0.553,"y":1.4,"c":1.475},{"a":-0.442,"b":-0.358,"y":1.4,"c":1.485},{"a":-0.238,"b":-0.162,"y":1.4,"c":1.492},{"a":-0.035,"b":0.035,"y":1.4,"c":1.498},{"a":0.168,"b":0.232,"y":1.4,"c":1.502},{"a":0.371,"b":0.429,"y":1.4,"c":1.505},{"a":0.573,"b":0.627,"y":1.4,"c":1.507},{"a":0.775,"b":0.825,"y":1.4,"c":1.509},{"a":0.977,"b":1.023,"y":1.4,"c":1.511},{"a":1.178,"b":1.222,"y":1.4,"c":1.512},{"a":1.38,"b":1.42,"y":1.4,"c":1.513},{"a":1.581,"b":1.619,"y":1.4,"c":1.514},{"a":1.782,"b":1.818,"y":1.4,"c":1.515},{"a":1.983,"b":2.017,"y":1.4,"c":1.515},{"a":2.184,"b":2.216,"y":1.4,"c":1.516},{"a":2.385,"b":2.415,"y":1.4,"c":1.516},{"a":2.585,"b":2.615,"y":1.4,"c":1.516},{"a":2.786,"b":2.814,"y":1.4,"c":1.517},
{"a":-3.035,"b":-2.965,"y":1.6,"c":1.502},{"a":-2.838,"b":-2.762,"y":1.6,"c":1.508},{"a":-2.642,"b":-2.558,"y":1.6,"c":1.515},{"a":-2.447,"b":-2.353,"y":1.6,"c":1.525},{"a":-2.251,"b":-2.149,"y":1.6,"c":1.538},{"a":-2.056,"b":-1.944,"y":1.6,"c":1.555},{"a":-1.859,"b":-1.741,"y":1.6,"c":1.576},{"a":-1.66,"b":-1.54,"y":1.6,"c":1.6},{"a":-1.459,"b":-1.341,"y":1.6,"c":1.624},{"a":-1.256,"b":-1.144,"y":1.6,"c":1.645},{"a":-1.051,"b":-0.949,"y":1.6,"c":1.662},{"a":-0.847,"b":-0.753,"y":1.6,"c":1.675},{"a":-0.642,"b":-0.558,"y":1.6,"c":1.685},{"a":-0.438,"b":-0.362,"y":1.6,"c":1.692},{"a":-0.235,"b":-0.165,"y":1.6,"c":1.698},{"a":-0.032,"b":0.032,"y":1.6,"c":1.702},{"a":0.171,"b":0.229,"y":1.6,"c":1.705},{"a":0.373,"b":0.427,"y":1.6,"c":1.707},{"a":0.575,"b":0.625,"y":1.6,"c":1.709},{"a":0.777,"b":0.823,"y":1.6,"c":1.711},{"a":0.978,"b":1.022,"y":1.6,"c":1.712},{"a":1.18,"b":1.22,"y":1.6,"c":1.713},{"a":1.381,"b":1.419,"y":1.6,"c":1.714},{"a":1.582,"b":1.618,"y":1.6,"c":1.715},{"a":1.783,"b":1.817,"y":1.6,"c":1.715},{"a":1.984,"b":2.016,"y":1.6,"c":1.716},{"a":2.185,"b":2.215,"y":1.6,"c":1.716},{"a":2.385,"b":2.415,"y":1.6,"c":1.716},{"a":2.586,"b":2.614,"y":1.6,"c":1.717},{"a":2.787,"b":2.813,"y":1.6,"c":1.717},
{"a":-3.038,"b":-2.962,"y":1.8,"c":1.708},{"a":-2.842,"b":-2.758,"y":1.8,"c":1.715},{"a":-2.647,"b":-2.553,"y":1.8,"c":1.725},{"a":-2.451,"b":-2.349,"y":1.8,"c":1.738},{"a":-2.256,"b":-2.144,"y":1.8,"c":1.755},{"a":-2.059,"b":-1.941,"y":1.8,"c":1.776},{"a":-1.86,"b":-1.74,"y":1.8,"c":1.8},{"a":-1.659,"b":-1.541,"y":1.8,"c":1.824},{"a":-1.456,"b":-1.344,"y":1.8,"c":1.845},{"a":-1.251,"b":-1.149,"y":1.8,"c":1.862},{"a":-1.047,"b":-0.953,"y":1.8,"c":1.875},{"a":-0.842,"b":-0.758,"y":1.8,"c":1.885},{"a":-0.638,"b":-0.562,"y":1.8,"c":1.892},{"a":-0.435,"b":-0.365,"y":1.8,"c":1.898},{"a":-0.232,"b":-0.168,"y":1.8,"c":1.902},{"a":-0.029,"b":0.029,"y":1.8,"c":1.905},{"a":0.173,"b":0.227,"y":1.8,"c":1.907},{"a":0.375,"b":0.425,"y":1.8,"c":1.909},{"a":0.577,"b":0.623,"y":1.8,"c":1.911},{"a":0.778,"b":0.822,"y":1.8,"c":1.912},{"a":0.98,"b":1.02,"y":1.8,"c":1.913},{"a":1.181,"b":1.219,"y":1.8,"c":1.914},{"a":1.382,"b":1.418,"y":1.8,"c":1.915},{"a":1.583,"b":1.617,"y":1.8,"c":1.915},{"a":1.784,"b":1.816,"y":1.8,"c":1.916},{"a":1.985,"b":2.015,"y":1.8,"c":1.916},{"a":2.185,"b":2.215,"y":1.8,"c":1.916},{"a":2.386,"b":2.414,"y":1.8,"c":1.917},{"a":2.587,"b":2.613,"y":1.8,"c":1.917},{"a":2.787,"b":2.813,"y":1.8,"c":1.917},
{"a":-3.042,"b":-2.958,"y":2,"c":1.915},{"a":-2.847,"b":-2.753,"y":2,"c":1.925},{"a":-2.651,"b":-2.549,"y":2,"c":1.938},{"a":-2.456,"b":-2.344,"y":2,"c":1.955},{"a":-2.259,"b":-2.141,"y":2,"c":1.976},{"a":-2.06,"b":-1.94,"y":2,"c":2},{"a":-1.859,"b":-1.741,"y":2,"c":2.024},{"a":-1.656,"b":-1.544,"y":2,"c":2.045},{"a":-1.451,"b":-1.349,"y":2,"c":2.062},{"a":-1.247,"b":-1.153,"y":2,"c":2.075},{"a":-1.042,"b":-0.958,"y":2,"c":2.085},{"a":-0.838,"b":-0.762,"y":2,"c":2.092},{"a":-0.635,"b":-0.565,"y":2,"c":2.098},{"a":-0.432,"b":-0.368,"y":2,"c":2.102},{"a":-0.229,"b":-0.171,"y":2,"c":2.105},{"a":-0.027,"b":0.027,"y":2,"c":2.107},{"a":0.175,"b":0.225,"y":2,"c":2.109},{"a":0.377,"b":0.423,"y":2,"c":2.111},{"a":0.578,"b":0.622,"y":2,"c":2.112},{"a":0.78,"b":0.82,"y":2,"c":2.113},{"a":0.981,"b":1.019,"y":2,"c":2.114},{"a":1.182,"b":1.218,"y":2,"c":2.115},{"a":1.383,"b":1.417,"y":2,"c":2.115},{"a":1.584,"b":1.616,"y":2,"c":2.116},{"a":1.785,"b":1.815,"y":2,"c":2.116},{"a":1.985,"b":2.015,"y":2,"c":2.116},{"a":2.186,"b":2.214,"y":2,"c":2.117},{"a":2.387,"b":2.413,"y":2,"c":2.117},{"a":2.587,"b":2.613,"y":2,"c":2.117},{"a":2.788,"b":2.812,"y":2,"c":2.118},
{"a":-3.047,"b":-2.953,"y":2.2,"c":2.125},{"a":-2.851,"b":-2.749,"y":2.2,"c":2.138},{"a":-2.656,"b":-2.544,"y":2.2,"c":2.155},{"a":-2.459,"b":-2.341,"y":2.2,"c":2.176},{"a":-2.26,"b":-2.14,"y":2.2,"c":2.2},{"a":-2.059,"b":-1.941,"y":2.2,"c":2.224},{"a":-1.856,"b":-1.744,"y":2.2,"c":2.245},{"a":-1.651,"b":-1.549,"y":2.2,"c":2.262},{"a":-1.447,"b":-1.353,"y":2.2,"c":2.275},{"a":-1.242,"b":-1.158,"y":2.2,"c":2.285},{"a":-1.038,"b":-0.962,"y":2.2,"c":2.292},{"a":-0.835,"b":-0.765,"y":2.2,"c":2.298},{"a":-0.632,"b":-0.568,"y":2.2,"c":2.302},{"a":-0.429,"b":-0.371,"y":2.2,"c":2.305},{"a":-0.227,"b":-0.173,"y":2.2,"c":2.307},{"a":-0.025,"b":0.025,"y":2.2,"c":2.309},{"a":0.177,"b":0.223,"y":2.2,"c":2.311},{"a":0.378,"b":0.422,"y":2.2,"c":2.312},{"a":0.58,"b":0.62,"y":2.2,"c":2.313},{"a":0.781,"b":0.819,"y":2.2,"c":2.314},{"a":0.982,"b":1.018,"y":2.2,"c":2.315},{"a":1.183,"b":1.217,"y":2.2,"c":2.315},{"a":1.384,"b":1.416,"y":2.2,"c":2.316},{"a":1.585,"b":1.615,"y":2.2,"c":2.316},{"a":1.785,"b":1.815,"y":2.2,"c":2.316},{"a":1.986,"b":2.014,"y":2.2,"c":2.317},{"a":2.187,"b":2.213,"y":2.2,"c":2.317},{"a":2.387,"b":2.413,"y":2.2,"c":2.317},{"a":2.588,"b":2.612,"y":2.2,"c":2.318},{"a":2.788,"b":2.812,"y":2.2,"c":2.318},
{"a":-3.051,"b":-2.949,"y":2.4,"c":2.338},{"a":-2.856,"b":-2.744,"y":2.4,"c":2.355},{"a":-2.659,"b":-2.541,"y":2.4,"c":2.376},{"a":-2.46,"b":-2.34,"y":2.4,"c":2.4},{"a":-2.259,"b":-2.141,"y":2.4,"c":2.424},{"a":-2.056,"b":-1.944,"y":2.4,"c":2.445},{"a":-1.851,"b":-1.749,"y":2.4,"c":2.462},{"a":-1.647,"b":-1.553,"y":2.4,"c":2.475},{"a":-1.442,"b":-1.358,"y":2.4,"c":2.485},{"a":-1.238,"b":-1.162,"y":2.4,"c":2.492},{"a":-1.035,"b":-0.965,"y":2.4,"c":2.498},{"a":-0.832,"b":-0.768,"y":2.4,"c":2.502},{"a":-0.629,"b":-0.571,"y":2.4,"c":2.505},{"a":-0.427,"b":-0.373,"y":2.4,"c":2.507},{"a":-0.225,"b":-0.175,"y":2.4,"c":2.509},{"a":-0.023,"b":0.023,"y":2.4,"c":2.511},{"a":0.178,"b":0.222,"y":2.4,"c":2.512},{"a":0.38,"b":0.42,"y":2.4,"c":2.513},{"a":0.581,"b":0.619,"y":2.4,"c":2.514},{"a":0.782,"b":0.818,"y":2.4,"c":2.515},{"a":0.983,"b":1.017,"y":2.4,"c":2.515},{"a":1.184,"b":1.216,"y":2.4,"c":2.516},{"a":1.385,"b":1.415,"y":2.4,"c":2.516},{"a":1.585,"b":1.615,"y":2.4,"c":2.516},{"a":1.786,"b":1.814,"y":2.4,"c":2.517},{"a":1.987,"b":2.013,"y":2.4,"c":2.517},{"a":2.187,"b":2.213,"y":2.4,"c":2.517},{"a":2.388,"b":2.412,"y":2.4,"c":2.518},{"a":2.588,"b":2.612,"y":2.4,"c":2.518},{"a":2.789,"b":2.811,"y":2.4,"c":2.518},
{"a":-3.056,"b":-2.944,"y":2.6,"c":2.555},{"a":-2.859,"b":-2.741,"y":2.6,"c":2.576},{"a":-2.66,"b":-2.54,"y":2.6,"c":2.6},{"a":-2.459,"b":-2.341,"y":2.6,"c":2.624},{"a":-2.256,"b":-2.144,"y":2.6,"c":2.645},{"a":-2.051,"b":-1.949,"y":2.6,"c":2.662},{"a":-1.847,"b":-1.753,"y":2.6,"c":2.675},{"a":-1.642,"b":-1.558,"y":2.6,"c":2.685},{"a":-1.438,"b":-1.362,"y":2.6,"c":2.692},{"a":-1.235,"b":-1.165,"y":2.6,"c":2.698},{"a":-1.032,"b":-0.968,"y":2.6,"c":2.702},{"a":-0.829,"b":-0.771,"y":2.6,"c":2.705},{"a":-0.627,"b":-0.573,"y":2.6,"c":2.707},{"a":-0.425,"b":-0.375,"y":2.6,"c":2.709},{"a":-0.223,"b":-0.177,"y":2.6,"c":2.711},{"a":-0.022,"b":0.022,"y":2.6,"c":2.712},{"a":0.18,"b":0.22,"y":2.6,"c":2.713},{"a":0.381,"b":0.419,"y":2.6,"c":2.714},{"a":0.582,"b":0.618,"y":2.6,"c":2.715},{"a":0.783,"b":0.817,"y":2.6,"c":2.715},{"a":0.984,"b":1.016,"y":2.6,"c":2.716},{"a":1.185,"b":1.215,"y":2.6,"c":2.716},{"a":1.385,"b":1.415,"y":2.6,"c":2.716},{"a":1.586,"b":1.614,"y":2.6,"c":2.717},{"a":1.787,"b":1.813,"y":2.6,"c":2.717},{"a":1.987,"b":2.013,"y":2.6,"c":2.717},{"a":2.188,"b":2.212,"y":2.6,"c":2.718},{"a":2.388,"b":2.412,"y":2.6,"c":2.718},{"a":2.589,"b":2.611,"y":2.6,"c":2.718},{"a":2.789,"b":2.811,"y":2.6,"c":2.718},
{"a":-3.059,"b":-2.941,"y":2.8,"c":2.776},{"a":-2.86,"b":-2.74,"y":2.8,"c":2.8},{"a":-2.659,"b":-2.541,"y":2.8,"c":2.824},{"a":-2.456,"b":-2.344,"y":2.8,"c":2.845},{"a":-2.251,"b":-2.149,"y":2.8,"c":2.862},{"a":-2.047,"b":-1.953,"y":2.8,"c":2.875},{"a":-1.842,"b":-1.758,"y":2.8,"c":2.885},{"a":-1.638,"b":-1.562,"y":2.8,"c":2.892},{"a":-1.435,"b":-1.365,"y":2.8,"c":2.898},{"a":-1.232,"b":-1.168,"y":2.8,"c":2.902},{"a":-1.029,"b":-0.971,"y":2.8,"c":2.905},{"a":-0.827,"b":-0.773,"y":2.8,"c":2.907},{"a":-0.625,"b":-0.575,"y":2.8,"c":2.909},{"a":-0.423,"b":-0.377,"y":2.8,"c":2.911},{"a":-0.222,"b":-0.178,"y":2.8,"c":2.912},{"a":-0.02,"b":0.02,"y":2.8,"c":2.913},{"a":0.181,"b":0.219,"y":2.8,"c":2.914},{"a":0.382,"b":0.418,"y":2.8,"c":2.915},{"a":0.583,"b":0.617,"y":2.8,"c":2.915},{"a":0.784,"b":0.816,"y":2.8,"c":2.916},{"a":0.985,"b":1.015,"y":2.8,"c":2.916},{"a":1.185,"b":1.215,"y":2.8,"c":2.916},{"a":1.386,"b":1.414,"y":2.8,"c":2.917},{"a":1.587,"b":1.613,"y":2.8,"c":2.917},{"a":1.787,"b":1.813,"y":2.8,"c":2.917},{"a":1.988,"b":2.012,"y":2.8,"c":2.918},{"a":2.188,"b":2.212,"y":2.8,"c":2.918},{"a":2.389,"b":2.411,"y":2.8,"c":2.918},{"a":2.589,"b":2.611,"y":2.8,"c":2.918},{"a":2.789,"b":2.811,"y":2.8,"c":2.918}
]},
"layer":[
{"mark":{"type":"rule","color":"#666666","strokeWidth":1},
 "encoding":{
  "x":{"field":"a","type":"quantitative","scale":{"domain":[-3.585,3.373],"nice":false,"zero":false},"axis":{"values":[-3,-2,-1,0,1,2,3],"grid":true}},
  "x2":{"field":"b"},
  "y":{"field":"y","type":"quantitative","scale":{"domain":[-3.438,3.26],"nice":false,"zero":false},"axis":{"values":[-3,-2,-1,0,1,2,3],"grid":true}},
  "y2":{"field":"c"}}},
{"data":{"values":[{"v":0}]},"mark":{"type":"rule","color":"#444444","strokeWidth":1},"encoding":{"x":{"field":"v","type":"quantitative"}}},
{"data":{"values":[{"v":0}]},"mark":{"type":"rule","color":"#444444","strokeWidth":1},"encoding":{"y":{"field":"v","type":"quantitative"}}}
]
}
